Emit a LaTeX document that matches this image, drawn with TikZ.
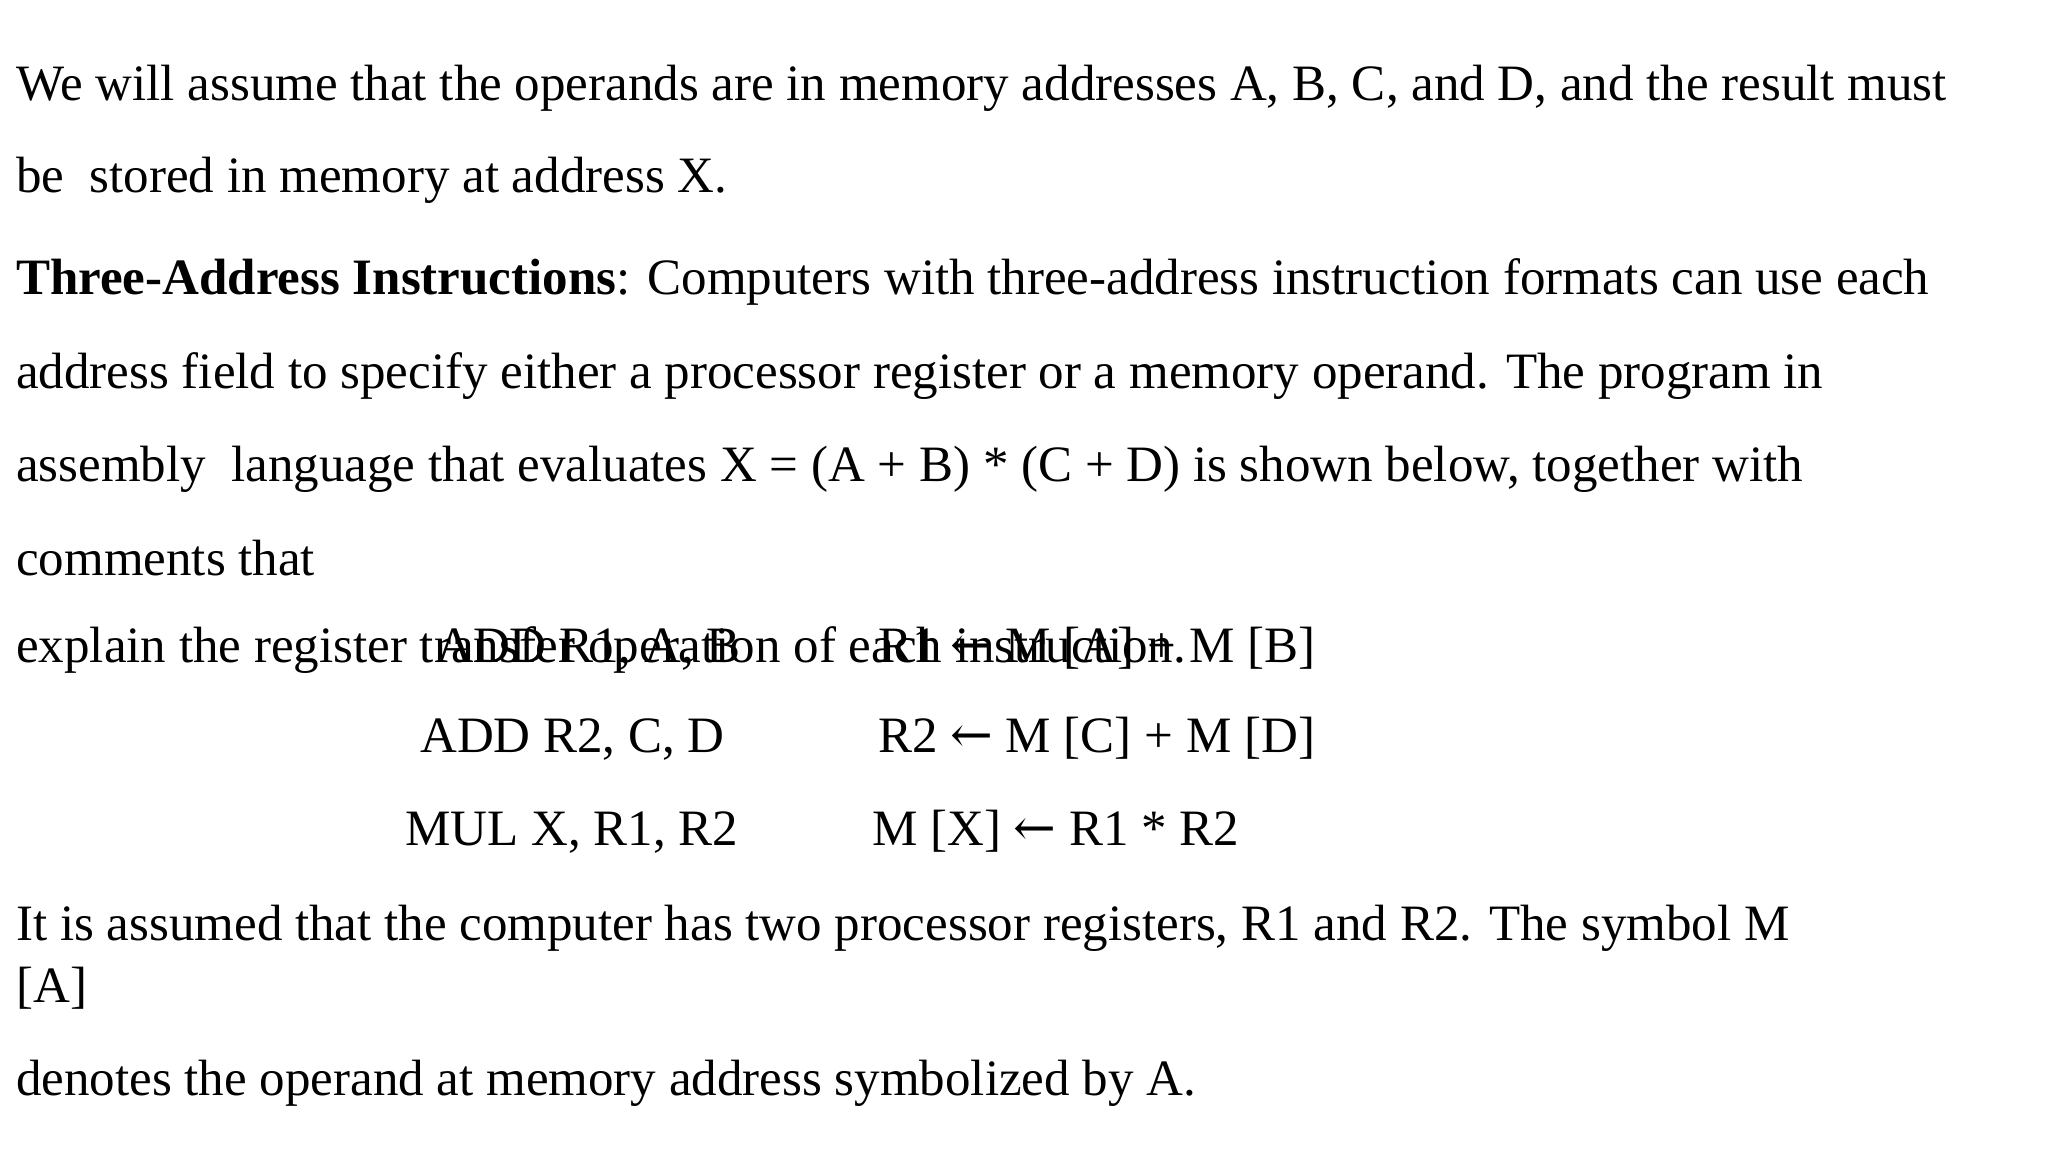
\documentclass[tikz,border=0pt]{standalone}
\usepackage{fontspec}
\setmainfont{Liberation Serif}
\newfontfamily\arrfont{DejaVu Serif}
\newcommand{\larr}{ {\arrfont ←} }
\begin{document}
\begin{tikzpicture}[x=1pt,y=-1pt,
  t/.style={anchor=base west,inner sep=0pt,font=\fontsize{51}{60}\selectfont}]
\useasboundingbox[fill=white] (0,0) rectangle (2048,1152);
\node[t] (l1) at (16,100) {We will assume that the operands are in memory addresses A, B, C, and D, and the result must};
\node[t] (l2) at (16,192) {be\ \ stored in memory at address X.};
\node[t] (l3) at (16,294) {\textbf{Three-Address Instructions}: Computers with three-address instruction formats can use each};
\node[t] (l4) at (16,388) {address field to specify either a processor register or a memory operand. The program in};
\node[t] (l5) at (16,481) {assembly\ \ language that evaluates X = (A + B) * (C + D) is shown below, together with};
\node[t] (l6) at (16,575) {comments that};
\node[t] (l7) at (16,662) {explain the register transfer operation of each instruction.};
\node[t] (a1) at (436,662) {ADD R1, A, B};
\node[t] (b1) at (878,662) {R1\larr M [A] + M [B]};
\node[t] (a2) at (420,752) {ADD R2, C, D};
\node[t] (b2) at (878,752) {R2\larr M [C] + M [D]};
\node[t] (a3) at (405,845) {MUL X, R1, R2};
\node[t] (b3) at (872,845) {M [X]\larr R1 * R2};
\node[t] (l8) at (16,940) {It is assumed that the computer has two processor registers, R1 and R2. The symbol M};
\node[t] (l9) at (16,1002) {[A]};
\node[t] (l10) at (16,1095) {denotes the operand at memory address symbolized by A.};
\end{tikzpicture}
\end{document}
